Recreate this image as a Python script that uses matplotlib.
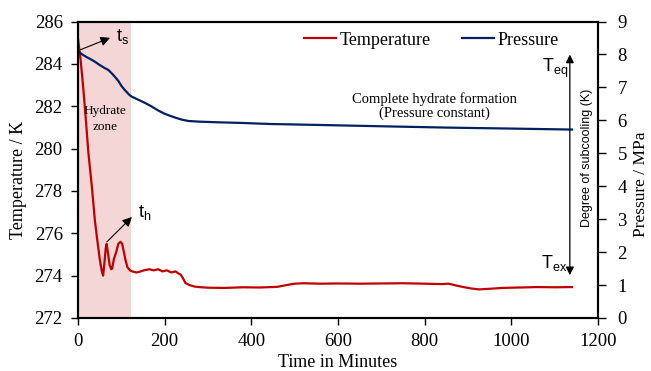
import matplotlib.pyplot as plt

plt.rcParams['font.family'] = ['Liberation Serif', 'DejaVu Serif']
plt.rcParams['mathtext.fontset'] = 'custom'
plt.rcParams['mathtext.rm'] = 'Liberation Sans'
plt.rcParams['mathtext.it'] = 'Liberation Sans'

# -------------------- data --------------------
t_temp = [0, 6, 12, 18, 24, 32, 39, 45, 50, 55,
          58, 61, 64, 66, 69, 73, 77, 79, 83, 88,
          93, 98, 102, 106, 110, 114, 120, 125, 135, 145,
          152, 165, 175, 185, 195, 205, 215, 225, 232, 237,
          243, 248, 258, 270, 285, 300, 340, 380, 420, 460,
          480, 500, 520, 560, 600, 650, 700, 750, 800, 840,
          855, 880, 905, 925, 950, 980, 1020, 1060, 1100, 1140]
temperature = [285.2, 284.2, 282.9, 281.4, 279.8, 278.2, 276.6, 275.6, 274.8, 274.2,
               274.0, 274.6, 275.3, 275.5, 275.1, 274.5, 274.3, 274.35, 274.8, 275.1,
               275.5, 275.6, 275.5, 275.1, 274.7, 274.4, 274.25, 274.2, 274.15, 274.2,
               274.25, 274.3, 274.25, 274.3, 274.2, 274.25, 274.15, 274.2, 274.1, 274.05,
               273.85, 273.65, 273.55, 273.48, 273.45, 273.43, 273.42, 273.45, 273.44, 273.47,
               273.55, 273.62, 273.64, 273.62, 273.63, 273.62, 273.63, 273.64, 273.62, 273.6,
               273.62, 273.5, 273.4, 273.35, 273.38, 273.42, 273.44, 273.46, 273.45, 273.46]

t_pres = [0, 10, 20, 30, 39, 50, 60, 70, 80, 93,
          100, 108, 118, 124, 140, 156, 170, 185, 200, 210,
          225, 240, 255, 280, 325, 380, 441, 556, 700, 850,
          1000, 1140]
pressure = [8.1, 8.0, 7.92, 7.85, 7.78, 7.68, 7.6, 7.53, 7.4, 7.2,
            7.05, 6.92, 6.78, 6.72, 6.62, 6.52, 6.42, 6.3, 6.2, 6.15,
            6.08, 6.02, 5.98, 5.96, 5.94, 5.92, 5.89, 5.86, 5.82, 5.78,
            5.75, 5.72]

zone = (0, 122)

# -------------------- plot --------------------
fig = plt.figure(figsize=(6.51, 3.71), dpi=100)
ax = fig.add_axes([0.1198, 0.1429, 0.7988, 0.7991])
ax2 = ax.twinx()

ax.axvspan(zone[0], zone[1], color='#f4d6d6', zorder=0, lw=0)
l1, = ax.plot(t_temp, temperature, color='#c00000', lw=1.6, label='Temperature')
l2, = ax2.plot(t_pres, pressure, color='#002060', lw=1.6, label='Pressure')

ax.set_xlim(0, 1200)
ax.set_ylim(272, 286)
ax2.set_ylim(0, 9)
ax.set_xticks(range(0, 1201, 200))
ax.set_yticks(range(272, 287, 2))
ax2.set_yticks(range(0, 10))

for a in (ax, ax2):
    for s in a.spines.values():
        s.set_linewidth(1.5)
    a.tick_params(direction='out', length=5, width=1, labelsize=13.5)
ax.tick_params(axis='x', pad=6)
ax.tick_params(axis='y', pad=6)
ax2.tick_params(axis='y', length=6, pad=8)

ax.set_xlabel('Time in Minutes', fontsize=13, labelpad=3)
ax.set_ylabel('Temperature / K', fontsize=13)
ax2.set_ylabel('Pressure / MPa', fontsize=12.5)
ax.yaxis.set_label_coords(-0.098, 0.465)
ax2.yaxis.set_label_coords(1.068, 0.45)

ax.legend([l1, l2], ['Temperature', 'Pressure'], ncol=2, frameon=False,
          loc='center', bbox_to_anchor=(0.68, 0.937), fontsize=13,
          handlelength=1.8, handletextpad=0.2, columnspacing=1.7)

# annotations
ax.text(62, 281.4, 'Hydrate\nzone', ha='center', va='center', fontsize=9.5,
        linespacing=1.35)
ax.annotate('', xy=(80, 285.28), xytext=(0, 284.62),
            arrowprops=dict(arrowstyle='-|>', color='black', lw=0.8, mutation_scale=14))
ax.text(102, 285.3, r'$\mathrm{t_s}$', fontsize=13, va='center', ha='center')
ax.annotate('', xy=(129, 276.86), xytext=(62, 275.5),
            arrowprops=dict(arrowstyle='-|>', color='black', lw=0.8, mutation_scale=14))
ax.text(155, 277.0, r'$\mathrm{t_h}$', fontsize=13, va='center', ha='center')

ax.text(822, 282.0, 'Complete hydrate formation\n(Pressure constant)', ha='center',
        va='center', fontsize=10.5, linespacing=1.1)

ax.annotate('', xy=(1135, 284.57), xytext=(1135, 273.89),
            arrowprops=dict(arrowstyle='<|-|>', color='black', lw=0.9, mutation_scale=12))
ax.text(1101, 283.8, r'$\mathrm{T_{eq}}$', fontsize=13, va='center', ha='center')
ax.text(1098, 274.6, r'$\mathrm{T_{ex}}$', fontsize=13, va='center', ha='center')
ax.text(1175, 279.55, 'Degree of subcooling (K)', rotation=90, ha='center', va='center',
        fontsize=9, family=['Liberation Sans', 'DejaVu Sans'])

fig.savefig('out.png', dpi=100)
